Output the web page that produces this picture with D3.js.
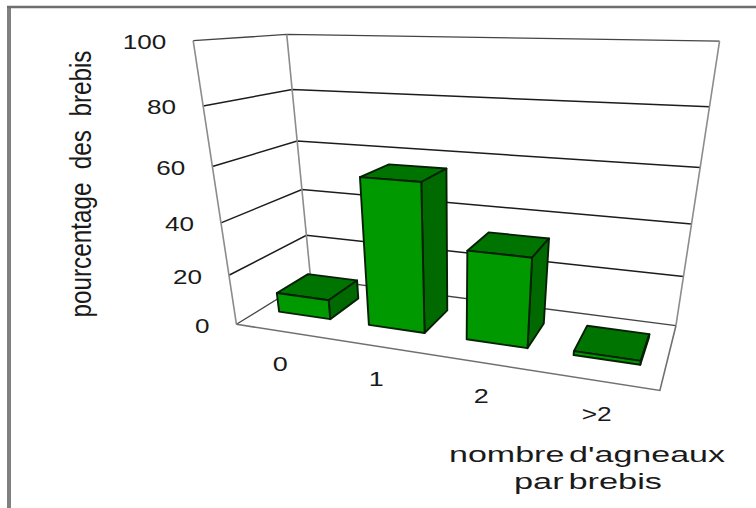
<!DOCTYPE html>
<html>
<head>
<meta charset="utf-8">
<script src="https://cdn.jsdelivr.net/npm/d3@7"></script>
<style>
  html, body { margin: 0; padding: 0; background: #fff; }
  svg { display: block; }
  text { font-family: "Liberation Sans", Arial, sans-serif; fill: #1a1a1a; white-space: pre; }
</style>
</head>
<body>
<svg id="chart" width="756" height="508"></svg>
<script>
// Lambs per ewe: share of ewes in each litter-size class
const categories = ["0", "1", "2", ">2"];
const values = [8, 56.5, 34, 1.5];
const yTicks = [0, 20, 40, 60, 80, 100];
const gridTicks = [20, 40, 60, 80];
const yTitle = "pourcentage  des  brebis";
const xTitle = ["nombre d'agneaux", "par brebis"];

// Camera calibration: box edges on screen, listed bottom to top
const frontLeft = [[236,325],[229,275],[221,223],[213,166],[203,106],[193,41]];
const backLeft  = [[311,277],[306,236],[302,190],[297,142],[292,89],[287,34]];
const backRight = [[676,326],[684,277],[691,224],[700,167],[709,107],[720,41]];
const frontRightFloor = [660,390];

const xWorld = d3.scaleBand().domain(categories).range([0, 1]).paddingInner(0.42).paddingOuter(0.21);
const yWorld = d3.scaleLinear().domain([0, 100]).range([0, 1]);
const zWorld = d3.scaleLinear().domain([0, 1]).range([0, 1]);
const barDepth = [0.3, 0.73];

// Fit a 3x4 projective camera by least squares
function fitCamera() {
  const pts = [];
  yTicks.forEach((t, i) => {
    pts.push([0, yWorld(t), 0, ...frontLeft[i]]);
    pts.push([0, yWorld(t), 1, ...backLeft[i]]);
    pts.push([1, yWorld(t), 1, ...backRight[i]]);
  });
  pts.push([1, 0, 0, ...frontRightFloor]);
  const n = 11;
  const A = d3.range(n).map(() => new Array(n + 1).fill(0));
  const add = (r, b) => {
    for (let i = 0; i < n; i++) {
      for (let j = 0; j < n; j++) A[i][j] += r[i] * r[j];
      A[i][n] += r[i] * b;
    }
  };
  pts.forEach(([X, Y, Z, u, v]) => {
    add([X, Y, Z, 1, 0, 0, 0, 0, -u * X, -u * Y, -u * Z], u);
    add([0, 0, 0, 0, X, Y, Z, 1, -v * X, -v * Y, -v * Z], v);
  });
  for (let c = 0; c < n; c++) {
    let p = c;
    for (let r = c + 1; r < n; r++) if (Math.abs(A[r][c]) > Math.abs(A[p][c])) p = r;
    [A[c], A[p]] = [A[p], A[c]];
    for (let r = 0; r < n; r++) {
      if (r === c) continue;
      const f = A[r][c] / A[c][c];
      for (let k = c; k <= n; k++) A[r][k] -= f * A[c][k];
    }
  }
  return A.map((row, i) => row[n] / row[i]);
}
const m = fitCamera();
const project = (x, value, z) => {
  const Y = yWorld(value);
  const w = m[8] * x + m[9] * Y + m[10] * z + 1;
  return [
    (m[0] * x + m[1] * Y + m[2] * z + m[3]) / w,
    (m[4] * x + m[5] * Y + m[6] * z + m[7]) / w
  ];
};

const svg = d3.select("#chart");
const line = d3.line();
const closed = d3.line().curve(d3.curveLinearClosed);

// Page frame: open on the right and at the bottom
const frame = svg.append("g").attr("fill", "none").attr("stroke", "#808080");
frame.append("path").attr("d", "M9,508V6").attr("stroke-width", 4);
frame.append("path").attr("d", "M7,7H756").attr("stroke-width", 2.5).attr("stroke", "#6e6e6e");

// Grid on the left wall and the back wall
const grid = svg.append("g").attr("fill", "none");
gridTicks.forEach(t => {
  grid.append("path")
    .attr("d", line([project(0, t, 0), project(0, t, 1), project(1, t, 1)]))
    .attr("stroke", "#1c1c1c").attr("stroke-width", 1.5);
});
grid.append("path")
  .attr("d", line([project(0, 100, 0), project(0, 100, 1), project(1, 100, 1)]))
  .attr("stroke", "#444").attr("stroke-width", 1.3);
grid.append("path")
  .attr("d", line([project(0, 0, 0), project(0, 0, 1), project(1, 0, 1)]))
  .attr("stroke", "#444").attr("stroke-width", 1.3);
[[0, 0], [0, 1], [1, 1]].forEach(([x, z]) => {
  grid.append("path")
    .attr("d", line([project(x, 0, z), project(x, 100, z)]))
    .attr("stroke", "#8c8c8c").attr("stroke-width", 1.6);
});
grid.append("path")
  .attr("d", line([project(0, 0, 0), project(1, 0, 0), project(1, 0, 1)]))
  .attr("stroke", "#707070").attr("stroke-width", 1.6);

// Bars: top, right side, then front face
const bars = svg.append("g").selectAll("g").data(categories).join("g")
  .attr("stroke", "#062006").attr("stroke-width", 1.9).attr("stroke-linejoin", "round");
bars.each(function (c, i) {
  const x0 = xWorld(c), x1 = x0 + xWorld.bandwidth();
  const [z0, z1] = barDepth.map(zWorld);
  const v = values[i];
  const g = d3.select(this);
  g.append("path").attr("fill", "#007400")
    .attr("d", closed([project(x0, v, z0), project(x1, v, z0), project(x1, v, z1), project(x0, v, z1)]));
  g.append("path").attr("fill", "#006a00")
    .attr("d", closed([project(x1, 0, z0), project(x1, v, z0), project(x1, v, z1), project(x1, 0, z1)]));
  g.append("path").attr("fill", "#009a00")
    .attr("d", closed([project(x0, 0, z0), project(x1, 0, z0), project(x1, v, z0), project(x0, v, z0)]));
});

// Stretched text helper: the glyphs are fitted to a set width
const label = (x, y, str, size, width, anchor) => svg.append("text")
  .attr("x", x).attr("y", y).attr("font-size", size)
  .attr("text-anchor", anchor)
  .attr("textLength", width).attr("lengthAdjust", "spacingAndGlyphs").text(str);

// Value axis labels sit a fixed distance left of the front edge
yTicks.forEach(t => {
  const [px, py] = project(0, t, 0);
  const width = String(t).length * 14.5;
  label(px - 27, py + 8.5, String(t), 20, width, "end");
});

// Category labels follow the front floor edge
categories.forEach(c => {
  const mid = xWorld(c) + xWorld.bandwidth() / 2;
  const [px, py] = project(mid, 0, 0);
  label(px - 1, py + 40, c, 20, c.length * 15, "middle");
});

// Axis titles: the value title is squeezed along its length by a transform
const title = svg.append("text")
  .attr("text-anchor", "middle").attr("font-size", 30).text(yTitle);
const squeeze = 267 / title.node().getComputedTextLength();
title.attr("transform", `translate(91,184) rotate(-90) scale(${squeeze},1)`);
label(587, 462, xTitle[0], 22, 276, "middle").style("word-spacing", "-3px");
label(588, 489, xTitle[1], 22, 148, "middle").style("word-spacing", "-3px");
</script>
</body>
</html>
